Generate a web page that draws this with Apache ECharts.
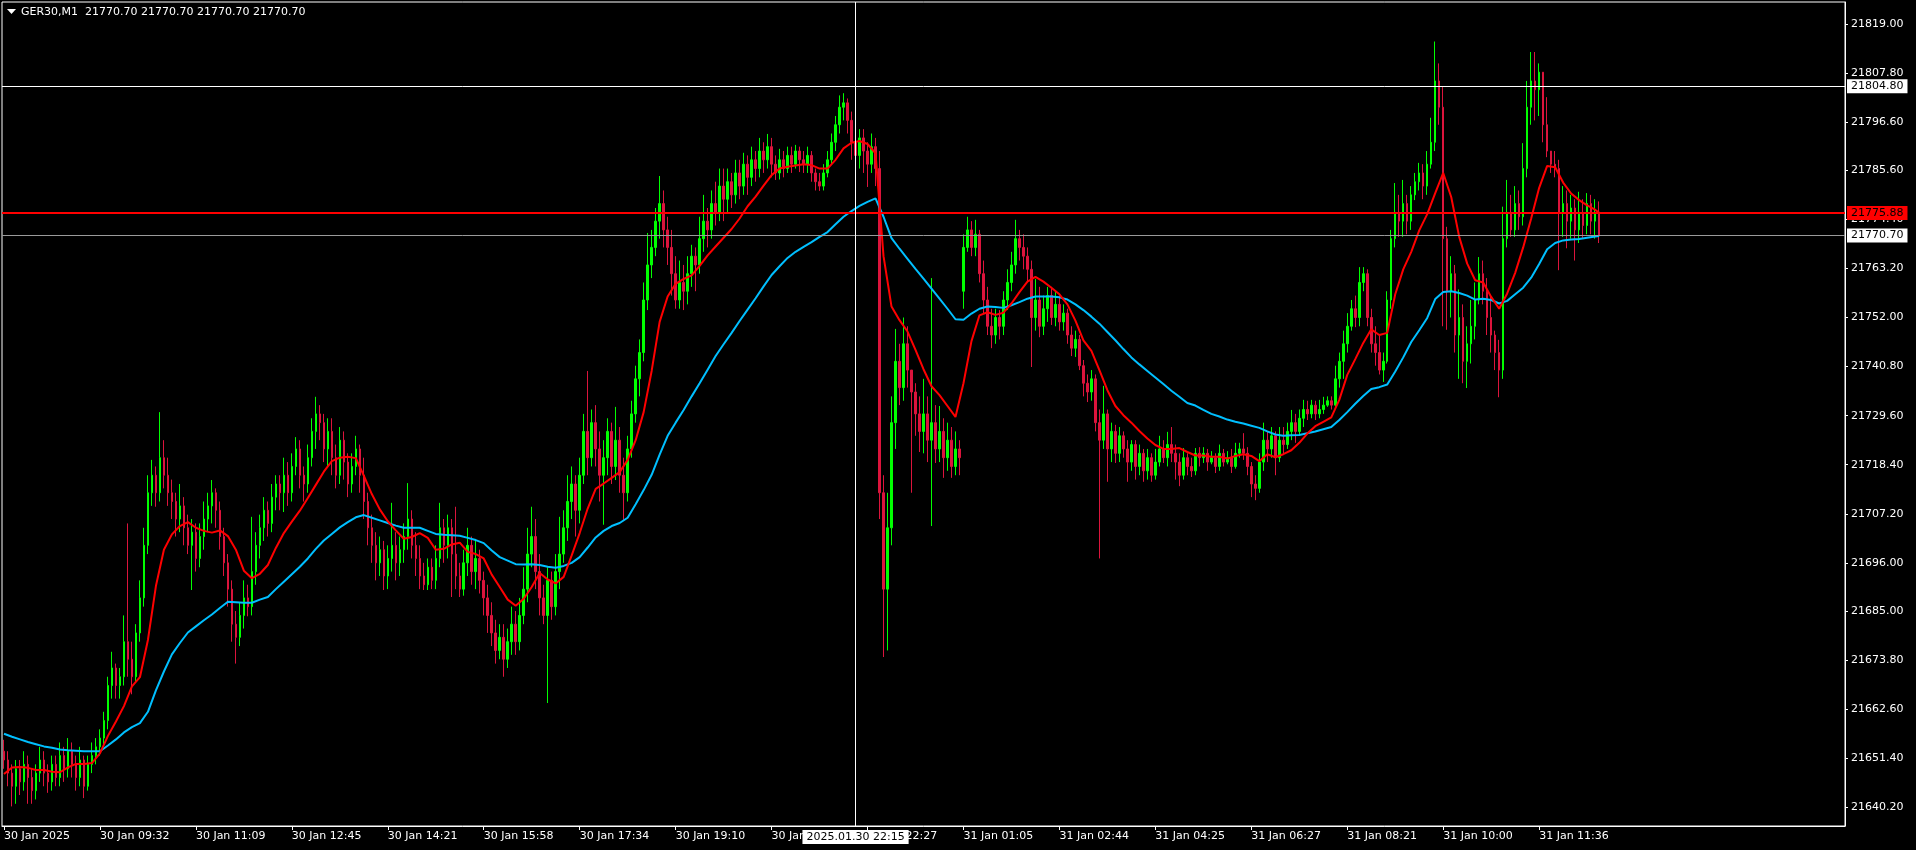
<!DOCTYPE html>
<html><head><meta charset="utf-8">
<script src="https://cdn.jsdelivr.net/npm/echarts@6/dist/echarts.min.js"></script>
<style>html,body{margin:0;padding:0;background:#000;}#c{width:1916px;height:850px;}</style>
</head><body><div id="c"></div>
<script>
const symbolTitle = 'GER30,M1  21770.70 21770.70 21770.70 21770.70';
const tickLabels = ['30 Jan 2025','30 Jan 09:32','30 Jan 11:09','30 Jan 12:45','30 Jan 14:21','30 Jan 15:58','30 Jan 17:34','30 Jan 19:10','30 Jan 20:51','30 Jan 22:27','31 Jan 01:05','31 Jan 02:44','31 Jan 04:25','31 Jan 06:27','31 Jan 08:21','31 Jan 10:00','31 Jan 11:36'];
const labelEvery = 24;
const categoryCount = 461;
const yTicks = [21819.00,21807.80,21796.60,21785.60,21774.40,21763.20,21752.00,21740.80,21729.60,21718.40,21707.20,21696.00,21685.00,21673.80,21662.60,21651.40,21640.20];
const crossIndex = 213;
const crossTime = '2025.01.30 22:15';
const crossPrice = 21804.80;
const levelPrice = 21775.88;
const bidPrice = 21770.70;

const opens = [
21653,21651,21648,21645,21649,21646,21650,21647,21644,21648,
21651,21648,21646,21650,21647,21652,21649,21653,21650,21647,
21651,21645,21650,21652,21654,21656,21660,21668,21672,21668,
21670,21678,21674,21670,21680,21688,21700,21712,21716,21712,
21720,21716,21712,21710,21706,21709,21704,21700,21703,21697,
21702,21706,21709,21712,21708,21702,21696,21690,21682,21679,
21684,21688,21686,21694,21700,21704,21708,21705,21711,21714,
21712,21716,21712,21718,21722,21716,21714,21720,21726,21730,
21728,21722,21726,21720,21716,21724,21719,21714,21718,21722,
21716,21710,21704,21700,21696,21699,21693,21697,21700,21696,
21699,21702,21706,21700,21697,21693,21691,21695,21692,21697,
21704,21700,21704,21698,21693,21690,21696,21700,21694,21697,
21692,21688,21684,21680,21676,21679,21674,21678,21682,21678,
21684,21690,21698,21702,21694,21688,21684,21692,21686,21694,
21698,21704,21710,21714,21708,21716,21726,21720,21728,21722,
21716,21720,21726,21718,21724,21716,21712,21722,21730,21738,
21744,21756,21764,21768,21774,21778,21772,21768,21762,21756,
21760,21758,21762,21766,21764,21770,21774,21772,21778,21776,
21782,21779,21783,21780,21785,21782,21787,21784,21788,21786,
21790,21788,21791,21787,21785,21788,21786,21789,21787,21790,
21788,21787,21789,21785,21783,21782,21785,21788,21792,21796,
21800,21801,21797,21792,21789,21793,21790,21787,21791,21786,
21712,21690,21704,21728,21742,21736,21746,21740,21735,21730,
21726,21730,21724,21728,21722,21726,21720,21724,21718,21722,
21758,21768,21772,21768,21771,21762,21756,21750,21748,21752,
21750,21756,21760,21764,21770,21768,21766,21763,21752,21756,
21750,21754,21757,21752,21755,21751,21753,21748,21745,21747,
21741,21737,21735,21738,21728,21724,21730,21722,21726,21721,
21725,21722,21719,21723,21718,21721,21717,21720,21716,21719,
21722,21720,21723,21721,21719,21716,21720,21718,21717,21721,
21720,21721,21719,21720,21718,21721,21719,21720,21718,21721,
21722,21721,21718,21714,21713,21719,21724,21722,21725,21720,
21724,21723,21726,21728,21726,21729,21731,21730,21732,21730,
21731,21732,21733,21732,21738,21742,21746,21750,21754,21752,
21760,21762,21752,21746,21744,21740,21742,21756,21770,21776,
21774,21778,21774,21780,21783,21785,21782,21787,21792,21806,
21800,21770,21758,21762,21748,21752,21742,21746,21750,21756,
21762,21758,21752,21748,21744,21740,21770,21776,21772,21778,
21775,21786,21800,21806,21804,21808,21796,21790,21787,21786,
21776,21778,21774,21777,21772,21776,21773,21778,21774,21776];

const closes = [
21651,21648,21645,21649,21646,21650,21647,21644,21648,21651,
21648,21646,21650,21647,21652,21649,21653,21650,21647,21651,
21645,21650,21652,21654,21656,21660,21668,21672,21668,21670,
21678,21674,21670,21680,21688,21700,21712,21716,21712,21720,
21716,21712,21710,21706,21709,21704,21700,21703,21697,21702,
21706,21709,21712,21708,21702,21696,21690,21682,21679,21684,
21688,21686,21694,21700,21704,21708,21705,21711,21714,21712,
21716,21712,21718,21722,21716,21714,21720,21726,21730,21728,
21722,21726,21720,21716,21724,21719,21714,21718,21722,21716,
21710,21704,21700,21696,21699,21693,21697,21700,21696,21699,
21702,21706,21700,21697,21693,21691,21695,21692,21697,21704,
21700,21704,21698,21693,21690,21696,21700,21694,21697,21692,
21688,21684,21680,21676,21679,21674,21678,21682,21678,21684,
21690,21698,21702,21694,21688,21684,21692,21686,21694,21698,
21704,21710,21714,21708,21716,21726,21720,21728,21722,21716,
21720,21726,21718,21724,21716,21712,21722,21730,21738,21744,
21756,21764,21768,21774,21778,21772,21768,21762,21756,21760,
21758,21762,21766,21764,21770,21774,21772,21778,21776,21782,
21779,21783,21780,21785,21782,21787,21784,21788,21786,21790,
21788,21791,21787,21785,21788,21786,21789,21787,21790,21788,
21787,21789,21785,21783,21782,21785,21788,21792,21796,21800,
21801,21797,21792,21789,21793,21790,21787,21791,21786,21712,
21690,21704,21728,21742,21736,21746,21740,21735,21730,21726,
21730,21724,21728,21722,21726,21720,21724,21718,21722,21720,
21768,21772,21768,21771,21762,21756,21750,21748,21752,21750,
21756,21760,21764,21770,21768,21766,21763,21752,21756,21750,
21754,21757,21752,21755,21751,21753,21748,21745,21747,21741,
21737,21735,21738,21728,21724,21730,21722,21726,21721,21725,
21722,21719,21723,21718,21721,21717,21720,21716,21719,21722,
21720,21723,21721,21719,21716,21720,21718,21717,21721,21720,
21721,21719,21720,21718,21721,21719,21720,21718,21721,21722,
21721,21718,21714,21713,21719,21724,21722,21725,21720,21724,
21723,21726,21728,21726,21729,21731,21730,21732,21730,21731,
21732,21733,21732,21738,21742,21746,21750,21754,21752,21760,
21762,21752,21746,21744,21740,21742,21756,21770,21776,21774,
21778,21774,21780,21783,21785,21782,21787,21792,21806,21800,
21770,21758,21762,21748,21752,21742,21746,21750,21756,21762,
21758,21752,21748,21744,21740,21770,21776,21772,21778,21775,
21786,21800,21806,21804,21808,21796,21790,21787,21786,21776,
21778,21774,21777,21772,21776,21773,21778,21774,21776,21770.7];

const lows = [
21649,21645,21640.4,21641,21643,21644,21641,21641,21642,21646,
21645,21643.5,21644,21645,21645,21646,21647,21647,21644,21645,
21642.3,21644,21648,21650,21652,21654,21658,21665,21665,21665,
21668,21670,21666,21669,21678,21686,21698,21709,21708.8,21710,
21713,21709,21706,21702,21703,21700,21698,21689.8,21694,21695,
21699,21703,21705,21704,21699,21693,21686,21678,21673,21677,
21681,21683.8,21684,21691,21697,21701,21702,21703,21708,21708,
21707.6,21709,21710,21716,21713,21710,21712,21718,21722,21724,
21719,21718,21716,21713,21714,21715,21711,21712,21716,21712,
21706,21700,21696,21692,21693,21689.8,21690,21694,21692,21693,
21696,21699,21697,21693,21690,21689.8,21689.8,21690,21690,21695,
21696,21697,21688.2,21690,21688.2,21688.5,21693,21691,21690,21689,
21684,21680,21677,21673,21674,21670,21672,21675,21675,21676,
21682,21687,21695,21690,21684,21682,21664,21683,21684,21690,
21696,21701,21706,21702,21705,21714,21716,21718,21718,21710,
21704.7,21716,21714,21714.9,21712,21705.8,21710,21720,21728,21734,
21742,21753.7,21761,21766,21770,21768,21764,21757,21754,21754,
21753.7,21755,21759,21758,21762,21767,21768,21770,21773,21774,
21774,21776,21777,21778,21779,21780,21780,21782,21783,21784,
21785,21786,21784,21783.4,21783.5,21784,21785,21785,21786,21785.2,
21785,21785,21783,21781,21780.9,21781,21784,21787,21790,21794,
21797,21794,21788,21787,21786,21785,21781.8,21785,21782,21706,
21674.5,21676,21700,21722,21732,21733,21736,21712,21725,21721.3,
21721,21719,21704.4,21718.8,21719,21715.4,21717,21715.4,21716,21716,
21754,21767,21766,21766,21760,21753,21748,21745,21746,21747,
21748,21753.7,21758,21762,21765,21763,21760,21740.7,21749,21747.5,
21748,21751,21750.3,21750,21749,21749,21746,21743.2,21743,21740,
21734,21732.7,21733,21726,21697,21722,21714.5,21719,21718.8,21719,
21720,21714.5,21717,21715,21716,21714.5,21715,21714.5,21715,21718,
21718.8,21718,21719,21715,21713.5,21715,21716,21715.6,21716,21718,
21718.8,21717,21718.5,21716.5,21717,21718,21718.5,21716.5,21717.5,21720,
21719.5,21716,21711,21710.3,21712,21717,21719,21720,21716,21719,
21721,21722,21724,21723.4,21725,21727,21728.6,21729,21728.6,21729,
21730,21731.6,21731,21731.6,21736,21738,21744,21749,21749.8,21750,
21758,21750,21744,21741,21739,21737.3,21741.5,21754,21768,21770.4,
21770.4,21771,21772,21778.8,21781,21779,21780,21786,21790,21796,
21750,21749.2,21752,21744,21738,21737,21735.9,21741.5,21747,21755,
21755,21748,21744,21740,21733.8,21738,21768,21770.4,21770.4,21772,
21773,21784,21796,21797,21798,21792,21788.6,21785,21784,21762.8,
21770.4,21767.8,21770,21765,21769,21770,21771,21771,21770,21769];

const highs = [
21655.6,21653,21650,21651,21651,21653,21652,21649,21650,21654,
21653,21650,21652,21652,21655,21654,21656,21655,21652,21654,
21652,21652,21655,21656,21658,21662,21670,21675.7,21673,21672,
21684,21705,21678,21682,21692,21704,21716,21719.5,21718,21730.4,
21724,21720,21715,21712,21714,21711,21707,21706,21705,21705,
21710,21712,21714.9,21713,21710,21704,21698,21692,21685,21687,
21692,21691,21706.5,21703,21707,21711,21710,21714,21716,21716,
21720,21719,21721,21724.7,21724,21718,21723,21729,21733.9,21732,
21730,21729,21729,21723,21727,21726,21721,21721,21725,21723,
21720,21712,21707,21703,21702,21701,21700,21709.7,21703,21702,
21705,21714.2,21708,21703,21700,21696,21697,21697,21700,21709.7,
21706,21707,21706,21708.8,21696,21699,21704,21702,21701,21699,
21694,21691,21687,21683,21682,21682,21681,21686,21685,21688,
21695,21704,21708.8,21706,21698,21691,21695,21694,21698,21706.5,
21708,21716,21718,21716,21720,21730,21739.8,21731,21732,21726,
21724,21729,21728,21731.6,21727,21720,21725,21733,21741,21747,
21760,21771.3,21772,21777,21784.3,21781,21775,21772,21766,21765,
21764,21766,21768.6,21768,21775,21780,21777,21781,21783,21786,
21786,21786,21785,21788,21788,21789.6,21789,21791,21790,21793,
21792,21793.9,21793,21789,21790.5,21790,21791,21791,21791.4,21791,
21790,21791,21790,21786,21785,21787,21790,21794,21798,21802.7,
21803.2,21802,21799,21794,21795,21795,21792,21794,21793,21790,
21716,21712,21734,21749.4,21746,21752,21750,21740,21737,21734,
21738,21734,21761,21732,21731.8,21729,21728,21727,21726,21724,
21771,21775,21774,21774.3,21772,21765,21759,21754,21754,21753.7,
21758,21763,21767,21774.3,21772,21771,21768,21765,21760.8,21759,
21757,21759,21759,21758,21757,21755,21754,21750,21749,21748,
21742.3,21739,21740,21739,21731,21736.4,21731,21728,21727.5,21727,
21726,21724,21724,21724,21723,21722,21722,21721,21722,21725,
21724,21725.9,21727,21723,21721,21722.2,21721,21720,21722.2,21722.4,
21722.4,21722,21721.5,21721,21723,21722,21721.5,21722,21723.4,21723.4,
21725.6,21722.4,21719,21716,21721,21728,21726,21727,21726,21727,
21727,21728,21730.9,21730,21731,21733.2,21733,21733.2,21733,21733.2,
21733.9,21734,21734,21741,21744,21749,21753,21756,21757,21763.5,
21763.5,21763,21754,21750,21748,21744,21758,21772,21782.7,21780,
21783.4,21780,21782,21785,21787.3,21787,21790,21797.6,21815,21810,
21804.6,21772.7,21766,21764,21758.4,21755,21750,21756,21760,21765.8,
21765,21761,21756.7,21749,21746.9,21777.3,21783.4,21780,21782,21781,
21791.8,21806,21812.6,21812.6,21810,21808,21802.3,21790,21790,21788,
21782,21781,21780,21779,21780.7,21779,21780.4,21780,21779,21778.5];

// moving averages, read every second candle (last value at the final candle)
const redMA = [
21647.8,21649.3,21649.4,21649.2,21648.7,21648.7,21648.3,21648.2,21649.3,21650.1,
21650.1,21650.3,21652.5,21656.5,21659.8,21663.3,21667.8,21669.9,21678.4,21690.7,
21699,21702.5,21704.4,21705.3,21704,21703.3,21702.9,21703.4,21702.1,21699,
21694.2,21692.5,21693.5,21695.5,21699.4,21702.8,21705.4,21707.9,21710.8,21713.8,
21716.8,21719.2,21720,21720.2,21719.9,21715.9,21711.7,21708.2,21705.5,21703.4,
21701.5,21701.9,21702.8,21701.7,21699,21699.2,21700.2,21700.6,21698.5,21698,
21697,21693.3,21690.5,21687.6,21686.2,21687.8,21690.5,21693.7,21692.2,21691.3,
21692.8,21697.7,21702.8,21708.4,21712.9,21714.1,21715.4,21716.7,21719.5,21724,
21730.4,21739.8,21751,21756.8,21759.7,21760.8,21761.6,21763.8,21766.2,21768.2,
21770.2,21772.2,21774.6,21777.4,21779.6,21782.1,21784.5,21786,21786.4,21786.7,
21787,21786.8,21786,21786,21788,21790.6,21791.9,21792.3,21791.6,21789.5,
21766,21754.5,21751.4,21748.8,21744.6,21740.2,21736.3,21734.3,21731.8,21729.3,
21737,21746.6,21752.5,21753.2,21752.6,21753.1,21755.2,21757.8,21760.2,21761.3,
21760.2,21758.8,21757.3,21755,21751.3,21746.8,21744.4,21740,21735.4,21731.8,
21729.7,21728,21726.1,21724.4,21722.9,21722,21722,21722.2,21721.3,21720.5,
21720.5,21720.2,21720.2,21719.8,21720.4,21720.8,21720.4,21719.2,21720.8,21720.1,
21720.8,21721.7,21723.4,21725.5,21727.2,21728.2,21729.2,21733.2,21738.9,21742.5,
21746.2,21749.3,21748,21748.5,21757.3,21763,21767,21771.9,21775.6,21780.4,
21785,21779.5,21770.4,21764.3,21760.5,21760,21756.7,21754,21757.5,21762.2,
21768,21774.6,21781.6,21786.6,21786.3,21782.8,21780.3,21778.8,21777.6,21776.6,
21775.9];

const cyanMA = [
21657,21656.3,21655.7,21655.1,21654.6,21654.1,21653.8,21653.4,21653.2,21653.1,
21653,21653,21653,21654.3,21655.7,21657.3,21658.5,21659.4,21662,21666.9,
21671.2,21675.1,21677.7,21680.1,21681.5,21682.9,21684.2,21685.7,21687.1,21687,
21686.9,21686.9,21687.6,21688.2,21690,21691.7,21693.4,21695.1,21697,21699.2,
21701.1,21702.6,21704.1,21705.3,21706.4,21706.9,21706.3,21705.7,21705.1,21704.5,
21704,21704,21704,21703.3,21702.6,21702.4,21702.3,21702.2,21701.7,21701.2,
21700.5,21698.8,21697.3,21696.5,21695.7,21695.6,21695.7,21695.5,21695.1,21694.9,
21695.3,21696,21697.3,21699.5,21701.8,21703.3,21704.4,21705.1,21706.3,21709.4,
21712.6,21716.1,21720.7,21725,21728,21730.9,21734,21737,21740.1,21743.2,
21745.9,21748.5,21751.2,21753.8,21756.4,21759.1,21761.7,21763.7,21765.6,21767,
21768.1,21769.2,21770.4,21771.5,21773.3,21775,21776.3,21777.5,21778.4,21779.2,
21775,21770.1,21767.7,21765.4,21763.1,21760.9,21758.6,21756.3,21754,21751.6,
21751.5,21752.9,21754,21754.5,21754.4,21754.2,21754.8,21755.5,21756.3,21756.8,
21756.8,21756.8,21756.6,21756.1,21755,21753.7,21752.2,21750.6,21748.7,21746.8,
21744.8,21742.9,21741.3,21739.8,21738.3,21736.8,21735.3,21733.9,21732.5,21731.9,
21730.9,21730,21729.4,21728.7,21728.2,21727.8,21727.3,21726.8,21726,21725.3,
21725,21725.1,21725.2,21725.6,21726,21726.5,21727,21728.6,21730.4,21732.3,
21734.1,21735.7,21736.1,21736.7,21739.7,21742.9,21746.4,21749.1,21751.9,21756.2,
21757.8,21758,21757.6,21757,21756.1,21756.3,21756,21755.2,21755.8,21757.3,
21758.8,21761.1,21764.2,21767.6,21769,21769.6,21769.8,21769.9,21770.2,21770.5,
21770.6];

const FONT = 'DejaVu Sans';
const yMin = 21635.93, yMax = 21824.02;
const categories = Array.from({length: categoryCount}, (_, i) => String(i));
const candles = closes.map((c, i) => [opens[i], c, lows[i], highs[i]]);
const maPoints = arr => arr.map((v, k) => [k < arr.length - 1 ? 2 * k : closes.length - 1, v]);
const showLabel = i => i % labelEvery === 0 && i / labelEvery < tickLabels.length;
const boxLabel = (text, bg, pos) => ({
  show: true, position: pos, formatter: text, color: '#000', backgroundColor: bg,
  fontFamily: FONT, fontSize: 11, lineHeight: 13, padding: [1, 4, 0, 4], distance: pos === 'end' ? 2 : 4
});

const chart = echarts.init(document.getElementById('c'), null, {renderer: 'canvas', width: 1916, height: 850});
chart.setOption({
  backgroundColor: '#000',
  animation: false,
  title: {text: symbolTitle, left: 21, top: 6, padding: 0,
    textStyle: {color: '#fff', fontSize: 11, fontWeight: 'normal', fontFamily: FONT, lineHeight: 13}},
  graphic: [{type: 'polygon', shape: {points: [[7, 9], [16, 9], [11.5, 14]]}, style: {fill: '#fff'}}],
  grid: {left: 2, top: 2, right: 71, bottom: 24, show: true, borderColor: '#fff', borderWidth: 1, backgroundColor: '#000'},
  xAxis: {
    type: 'category', data: categories, boundaryGap: true,
    axisLine: {lineStyle: {color: '#fff', width: 1}},
    axisTick: {show: true, alignWithLabel: true, interval: i => showLabel(i), length: 4, lineStyle: {color: '#fff'}},
    axisLabel: {interval: i => showLabel(i), formatter: (v, i) => tickLabels[i / labelEvery] || '',
      color: '#fff', fontFamily: FONT, fontSize: 11, align: 'left', margin: 5},
    splitLine: {show: false}
  },
  yAxis: {
    type: 'value', position: 'right', min: yMin, max: yMax,
    axisLine: {show: true, lineStyle: {color: '#fff'}},
    axisTick: {show: true, customValues: yTicks, length: 3, lineStyle: {color: '#fff'}},
    axisLabel: {customValues: yTicks, formatter: v => v.toFixed(2), color: '#fff', fontFamily: FONT, fontSize: 11, margin: 6},
    splitLine: {show: false}
  },
  series: [
    {
      type: 'candlestick', data: candles, barWidth: 2,
      itemStyle: {color: '#00ff00', color0: '#dc143c', borderColor: '#00ff00', borderColor0: '#dc143c', borderWidth: 1},
      markLine: {
        silent: true, symbol: ['none', 'none'], animation: false,
        data: [
          {yAxis: crossPrice, lineStyle: {color: '#ffffff', width: 1, type: 'solid'}, label: boxLabel(crossPrice.toFixed(2), '#ffffff', 'end')},
          {yAxis: levelPrice, lineStyle: {color: '#ff0000', width: 2, type: 'solid'}, label: boxLabel(levelPrice.toFixed(2), '#ff0000', 'end')},
          {yAxis: bidPrice, lineStyle: {color: '#9a9a9a', width: 1, type: 'solid'}, label: boxLabel(bidPrice.toFixed(2), '#ffffff', 'end')},
          {xAxis: String(crossIndex), lineStyle: {color: '#ffffff', width: 1, type: 'solid'}, label: boxLabel(crossTime, '#ffffff', 'start')}
        ]
      }
    },
    {type: 'line', data: maPoints(cyanMA), showSymbol: false, symbol: 'none', lineStyle: {color: '#00bfff', width: 2}, silent: true},
    {type: 'line', data: maPoints(redMA), showSymbol: false, symbol: 'none', lineStyle: {color: '#ff0000', width: 2}, silent: true}
  ]
});
</script>
</body></html>
